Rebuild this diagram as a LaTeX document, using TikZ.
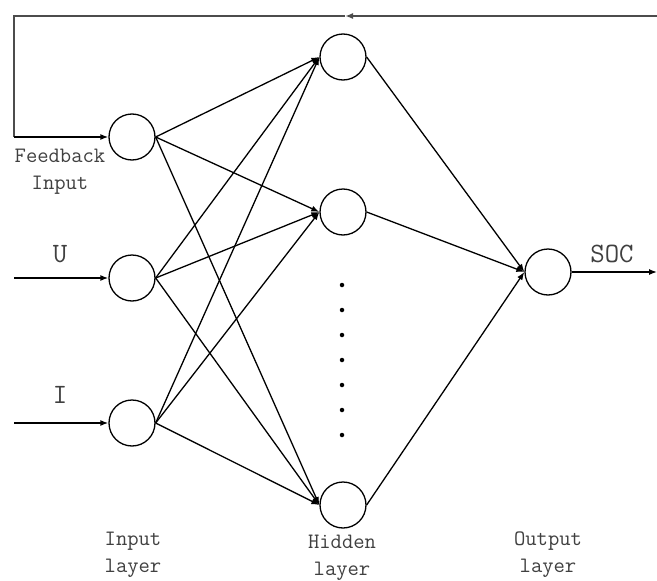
\documentclass[tikz,border=0pt]{standalone}
\usetikzlibrary{arrows.meta}
\begin{document}
\begin{tikzpicture}[x=1pt,y=-1pt,
  neuron/.style={circle,draw,line width=1.3pt,minimum size=46pt,inner sep=0pt},
  conn/.style={line width=1.3pt,-{Latex[length=8pt,width=6pt]}},
  lbl/.style={font=\ttfamily\fontsize{22}{27}\selectfont,text=black!75,align=center,inner sep=0pt},
  biglbl/.style={font=\ttfamily\fontsize{28}{32}\selectfont,text=black!75,inner sep=0pt},
  dot/.style={circle,fill=black,inner sep=0pt,minimum size=4.5pt}]
\useasboundingbox (0,0) rectangle (657,581);
% nodes
\node[neuron] (i1) at (132,137) {};
\node[neuron] (i2) at (132,278) {};
\node[neuron] (i3) at (132,423) {};
\node[neuron] (h1) at (343,57) {};
\node[neuron] (h2) at (343,212) {};
\node[neuron] (h3) at (343,505) {};
\node[neuron] (o) at (548,272) {};
% dots
\foreach \k [count=\n] in {285,310,335,360,385,410,435}
  \node[dot] (d\n) at (342,\k) {};
% connections
\foreach \a in {i1,i2,i3}
  \foreach \b in {h1,h2,h3}
    \draw[conn] (\a.east) -- (\b.west);
\foreach \b in {h1,h2,h3}
  \draw[conn] (\b.east) -- (o.west);
% external inputs
\coordinate (uin) at (14,278);
\coordinate (iin) at (14,423);
\draw[conn] (uin) -- (i2.west);
\draw[conn] (iin) -- (i3.west);
% output
\coordinate (socout) at (657,272);
\draw[conn] (o.east) -- (socout);
% feedback
\coordinate (fbR) at (657,16);
\coordinate (fbM) at (345,16);
\coordinate (fbTL) at (14,16);
\coordinate (fbBL) at (14,137);
\draw[line width=2.4pt,black!70,-{Latex[length=8pt,width=6pt]}] (fbR) -- (fbM);
\draw[line width=2.4pt,black!70] (fbM) -- (fbTL) -- (fbBL);
\draw[conn] (fbBL) -- (i1.west);
% labels
\node[lbl] (tfb) at (60,172) {Feedback\\Input};
\node[biglbl] (tu) at (60,254) {U};
\node[biglbl] (ti) at (60,395) {I};
\node[biglbl] (tsoc) at (612,254) {SOC};
\node[lbl] (til) at (133,555) {Input\\layer};
\node[lbl] (thl) at (342,558) {Hidden\\layer};
\node[lbl] (tol) at (548,555) {Output\\layer};
\end{tikzpicture}
\end{document}
